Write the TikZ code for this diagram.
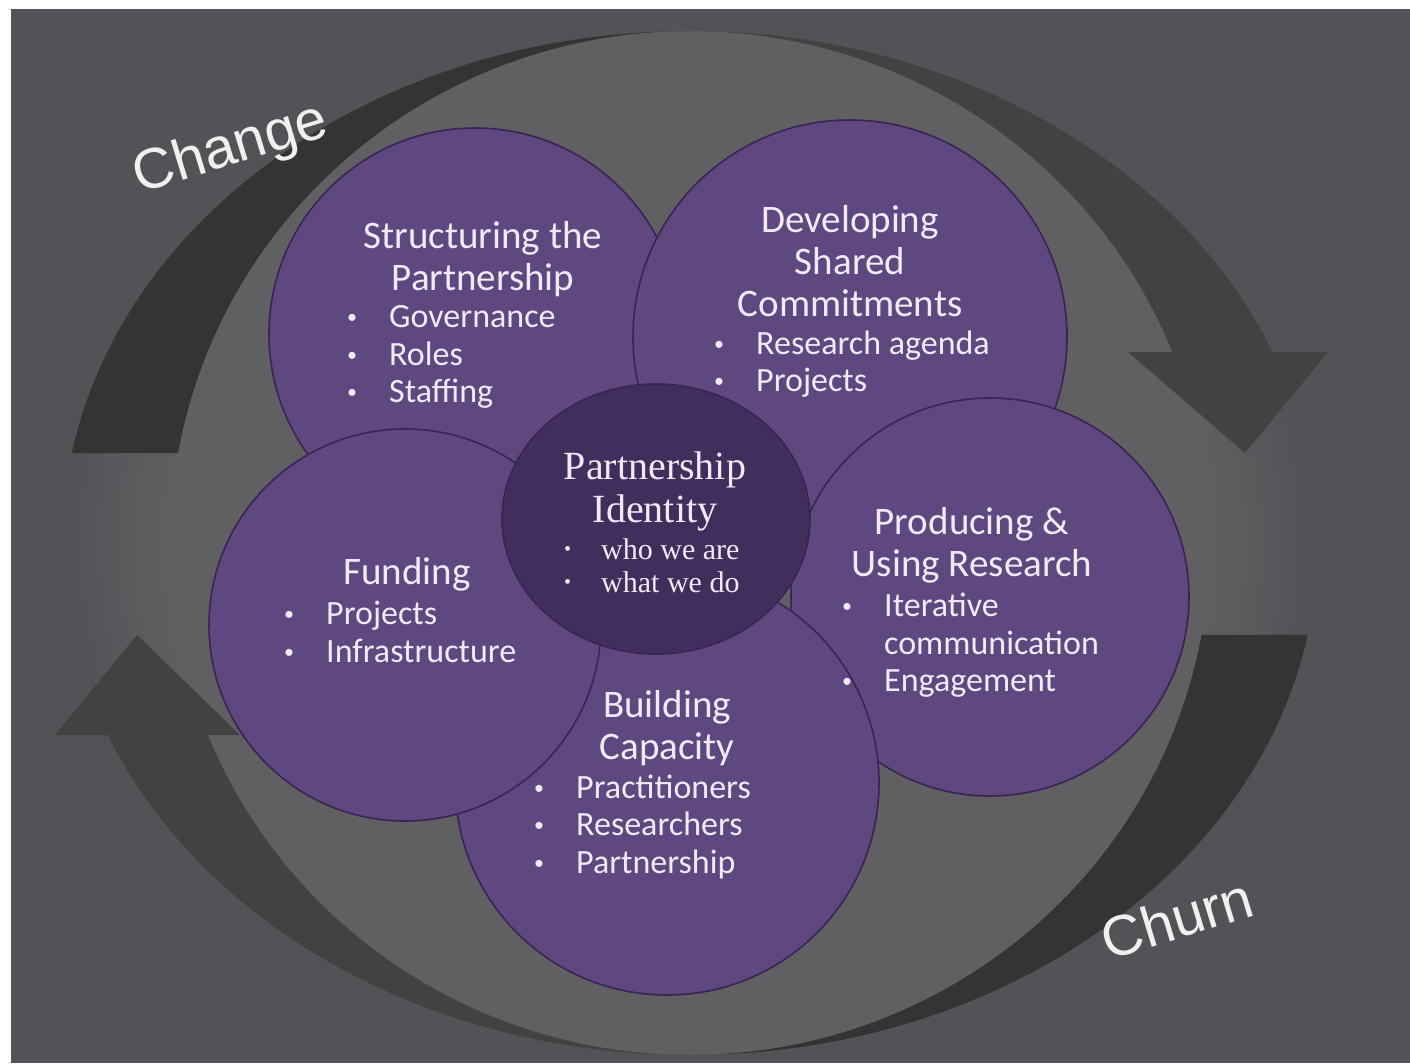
\documentclass[tikz,border=0pt]{standalone}
\usepackage{fontspec}
\setmainfont{Carlito}
\newfontfamily\idfont{Liberation Serif}
\newfontfamily\arcfont{Liberation Sans}
\usepackage{tikz}
\usetikzlibrary{positioning,shapes.geometric}
\definecolor{bgdark}{RGB}{83,83,87}
\definecolor{bglight}{RGB}{96,96,98}
\definecolor{tailgray}{RGB}{52,52,53}
\definecolor{headgray}{RGB}{66,66,67}
\definecolor{petalfill}{RGB}{95,72,128}
\definecolor{petaledge}{RGB}{58,36,84}
\definecolor{corefill}{RGB}{66,46,92}
\definecolor{lighttext}{RGB}{240,234,246}
\tikzset{
    petal/.style={circle, draw=petaledge, line width=1.6pt, fill=petalfill, inner sep=0pt},
    core/.style={ellipse, draw=petaledge, line width=1.6pt, fill=corefill, inner sep=0pt, minimum width=308pt, minimum height=270pt},
    petal title/.style={text=lighttext, align=center, inner sep=0pt, font=\fontsize{39}{42}\selectfont},
    petal items/.style={text=lighttext, align=left, inner sep=0pt, anchor=west, font=\fontsize{34}{37.5}\selectfont},
    core title/.style={text=lighttext, align=center, inner sep=0pt, font=\idfont\fontsize{40}{43}\selectfont},
    core items/.style={text=lighttext, align=left, inner sep=0pt, anchor=west, font=\idfont\fontsize{30}{33}\selectfont},
    arc label/.style={text=gray!12, inner sep=0pt, font=\arcfont\fontsize{57}{60}\selectfont, rotate=17},
    tail band/.style={fill=tailgray},
    head band/.style={fill=headgray}
}
\newcommand{\itm}[2][43pt]{\makebox[#1][l]{\hspace{1pt}\raisebox{4pt}{\fontsize{20}{20}\selectfont\textbullet}}#2}

\begin{document}
\begin{tikzpicture}[x=1pt, y=-1pt]
    \useasboundingbox (0,0) rectangle (1410,1063);
    % page edge and backdrop
    \fill[white] (0,0) rectangle (1410,1063);
    \fill[bgdark] (11,9) rectangle (1410,1063);
    \foreach \k in {0,...,12} {
        \pgfmathsetmacro\glowrx{628-9*\k}
        \pgfmathsetmacro\glowmix{100*\k/12}
        \fill[bglight!\glowmix!bgdark] (690,543) ellipse [x radius=\glowrx, y radius=512];
    }

    % the two cycle arrows
    \begin{scope}[shift={(690,543)}]
        \fill[tail band] (190.1:628 and 512) arc[start angle=190.1, end angle=270, x radius=628, y radius=512]
            -- (270:520 and 512) arc[start angle=270, end angle=190.1, x radius=520, y radius=512] -- cycle;
        \fill[head band] (270:628 and 512) arc[start angle=270, end angle=338.1, x radius=628, y radius=512]
            -- (338.1:520 and 512) arc[start angle=338.1, end angle=270, x radius=520, y radius=512] -- cycle;
        \fill[tail band] (10.35:628 and 512) arc[start angle=10.35, end angle=90, x radius=628, y radius=512]
            -- (90:520 and 512) arc[start angle=90, end angle=10.35, x radius=520, y radius=512] -- cycle;
        \fill[head band] (90:628 and 512) arc[start angle=90, end angle=158, x radius=628, y radius=512]
            -- (158:520 and 512) arc[start angle=158, end angle=90, x radius=520, y radius=512] -- cycle;
    \end{scope}
    \fill[head band] (1128,352) -- (1328,352) -- (1245,453) -- cycle;
    \fill[head band] (55,735) -- (240,735) -- (137,635) -- cycle;

    \node[arc label] (changelabel) at (231,150) {Change};
    \node[arc label] (churnlabel) at (1177,918) {Churn};

    % petals
    \node[petal, minimum size=412pt] (structuring) at (475,334) {};
    \node[petal, minimum size=434pt] (developing) at (850,337) {};
    \node[petal, minimum size=398pt] (producing) at (990,597) {};
    \node[petal, minimum size=424pt] (building) at (667,783) {};
    \node[petal, minimum size=392pt] (funding) at (405,625) {};
    \node[core] (identity) at (656,519) {};

    % petal texts
    \node[petal title] (structuringtitle) at (483,259) {Structuring the\\Partnership};
    \node[petal items] (structuringitems) at (346,357) {\itm{Governance}\\\itm{Roles}\\\itm{Staffing}};

    \node[petal title] (developingtitle) at (850,261) {Developing\\Shared\\Commitments};
    \node[petal items] (developingitems) at (713,364) {\itm{Research agenda}\\\itm{Projects}};

    \node[petal title] (producingtitle) at (972,545.5) {Producing \&\\Using Research};
    \node[petal items] (producingitems) at (841,645.5) {\itm{Iterative}\\\hspace*{43pt}communication\\\itm{Engagement}};

    \node[petal title] (buildingtitle) at (667,728) {Building\\Capacity};
    \node[petal items] (buildingitems) at (533,826.5) {\itm{Practitioners}\\\itm{Researchers}\\\itm{Partnership}};

    \node[petal title] (fundingtitle) at (407,574) {Funding};
    \node[petal items] (fundingitems) at (283,632) {\itm{Projects}\\\itm{Infrastructure}};

    \node[core title] (identitytitle) at (655,491) {Partnership\\Identity};
    \node[core items] (identityitems) at (563,566) {\itm[38pt]{who we are}\\\itm[38pt]{what we do}};
\end{tikzpicture}
\end{document}
